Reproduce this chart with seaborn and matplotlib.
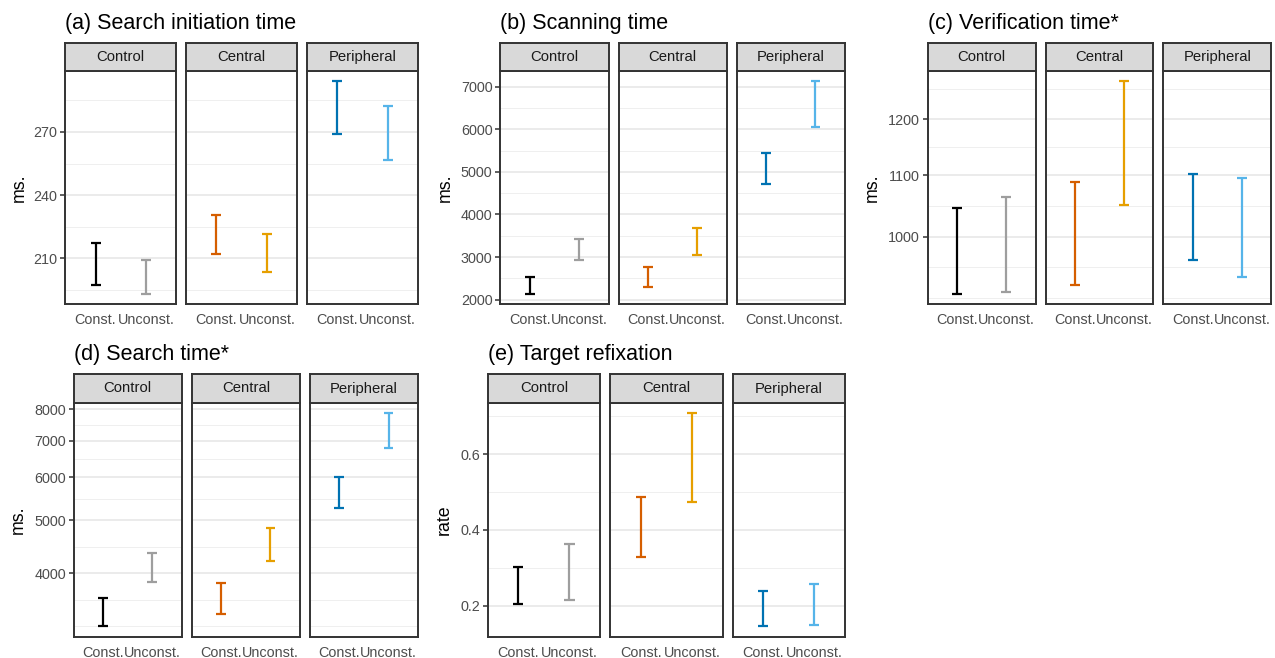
import numpy as np
import pandas as pd
import matplotlib
matplotlib.use("Agg")
import matplotlib.pyplot as plt
from matplotlib.ticker import NullLocator
import seaborn as sns

# --- data ---
conditions = ["Control", "Central", "Peripheral"]
constraints = ["Const.", "Unconst."]

# order: Control Const/Unconst, Central Const/Unconst, Peripheral Const/Unconst
init_lo = [197.4, 193.1, 212.1, 203.4, 269.2, 256.5]
init_hi = [217.0, 209.0, 230.7, 221.4, 294.1, 282.3]

scan_lo = [2140, 2927, 2304, 3051, 4720, 6051]
scan_hi = [2537, 3425, 2764, 3675, 5435, 7126]

verif_lo = [915, 917, 928, 1051, 964, 939]
verif_hi = [1045, 1064, 1088, 1273, 1103, 1096]

search_lo = [3198, 3860, 3364, 4208, 5278, 6800]
search_hi = [3599, 4353, 3839, 4844, 6008, 7864]

refix_lo = [0.203, 0.216, 0.329, 0.474, 0.146, 0.150]
refix_hi = [0.302, 0.362, 0.486, 0.708, 0.239, 0.257]

titles = ["(a) Search initiation time", "(b) Scanning time", "(c) Verification time*",
          "(d) Search time*", "(e) Target refixation"]
ylabels = ["ms.", "ms.", "ms.", "ms.", "rate"]
yticks = [[210, 240, 270],
          [2000, 3000, 4000, 5000, 6000, 7000],
          [1000, 1100, 1200],
          [4000, 5000, 6000, 7000, 8000],
          [0.2, 0.4, 0.6]]
ytick_labels = [["210", "240", "270"],
                ["2000", "3000", "4000", "5000", "6000", "7000"],
                ["1000", "1100", "1200"],
                ["4000", "5000", "6000", "7000", "8000"],
                ["0.2", "0.4", "0.6"]]
log_scale = [False, False, True, True, False]
lows = [init_lo, scan_lo, verif_lo, search_lo, refix_lo]
highs = [init_hi, scan_hi, verif_hi, search_hi, refix_hi]

palettes = {"Control": ["#000000", "#9E9E9E"],
            "Central": ["#D55E00", "#E69F00"],
            "Peripheral": ["#0072B2", "#56B4E9"]}

# --- layout in pixels (figure 1275 x 658) ---
W, H = 1275, 658
layouts = [
    dict(left=65.3, right=418.0, top=42.7, mid=70.7, bottom=304.3, ylab_x=19, title_y=28.5),
    dict(left=500.3, right=845.0, top=42.7, mid=70.7, bottom=304.3, ylab_x=445, title_y=28.5),
    dict(left=927.7, right=1271.3, top=42.7, mid=70.7, bottom=304.3, ylab_x=872, title_y=28.5),
    dict(left=73.7, right=418.0, top=374.3, mid=402.7, bottom=636.7, ylab_x=18, title_y=360),
    dict(left=487.7, right=845.0, top=374.3, mid=402.7, bottom=636.7, ylab_x=444, title_y=360),
]
GAP = 10


def px_rect(x0, y0, x1, y1):
    return [x0 / W, 1 - y1 / H, (x1 - x0) / W, (y1 - y0) / H]


def long_frame(lo, hi):
    rows = []
    i = 0
    for cond in conditions:
        for cons in constraints:
            rows.append((cond, cons, lo[i]))
            rows.append((cond, cons, hi[i]))
            i += 1
    return pd.DataFrame(rows, columns=["condition", "constraint", "value"])


def minor_breaks(major, lim, log):
    # same idea as ggplot's regular_minor_breaks
    fwd = np.log10 if log else (lambda v: np.asarray(v, float))
    inv = (lambda v: 10 ** v) if log else (lambda v: v)
    b = list(fwd(np.array(major, float)))
    lo, hi = fwd(np.array(lim, float))
    bd = b[1] - b[0]
    if lo < b[0]:
        b = [b[0] - bd] + b
    if hi > b[-1]:
        b = b + [b[-1] + bd]
    out = []
    for a, c in zip(b[:-1], b[1:]):
        out += [a, (a + c) / 2]
    out.append(b[-1])
    return inv(np.array(out))


sns.set_style("white")
plt.rcParams["font.family"] = ["Liberation Sans", "DejaVu Sans"]

fig = plt.figure(figsize=(W / 100, H / 100), dpi=100)
fig.patch.set_facecolor("white")

for k in range(5):
    lay = layouts[k]
    df = long_frame(lows[k], highs[k])
    lo_all, hi_all = min(lows[k]), max(highs[k])
    if log_scale[k]:
        a, b = np.log10(lo_all), np.log10(hi_all)
        pad = 0.05 * (b - a)
        ylim = (10 ** (a - pad), 10 ** (b + pad))
    else:
        pad = 0.05 * (hi_all - lo_all)
        ylim = (lo_all - pad, hi_all + pad)

    width = (lay["right"] - lay["left"] - 2 * GAP) / 3
    minors = minor_breaks(yticks[k], ylim, log_scale[k])

    for j, cond in enumerate(conditions):
        x0 = lay["left"] + j * (width + GAP)
        x1 = x0 + width
        ax = fig.add_axes(px_rect(x0, lay["mid"], x1, lay["bottom"]))
        sub = df[df["condition"] == cond]
        sns.pointplot(data=sub, x="constraint", y="value", hue="constraint",
                      order=constraints, hue_order=constraints, palette=palettes[cond],
                      errorbar=lambda v: (v.min(), v.max()), capsize=0.2,
                      marker="none", linestyle="none", legend=False,
                      err_kws={"linewidth": 1.6, "solid_capstyle": "butt"}, ax=ax)
        if log_scale[k]:
            ax.set_yscale("log")
        ax.set_ylim(*ylim)
        ax.set_xlim(-0.6, 1.6)
        ax.yaxis.set_minor_locator(NullLocator())

        for m in minors:
            if ylim[0] <= m <= ylim[1]:
                ax.axhline(m, color="#EFEFEF", lw=0.7, zorder=0)
        for t in yticks[k]:
            ax.axhline(t, color="#EBEBEB", lw=1.4, zorder=0)

        ax.set_xlabel("")
        ax.set_ylabel("")
        ax.set_yticks(yticks[k], ytick_labels[k])
        ax.tick_params(axis="both", length=3.6, width=1.1, color="#333333",
                       labelcolor="#4D4D4D", labelsize=10.4, pad=2)
        ax.tick_params(axis="x", pad=3)
        ax.tick_params(axis="y", left=(j == 0), labelleft=(j == 0))
        for sp in ax.spines.values():
            sp.set_color("#333333")
            sp.set_linewidth(1.4)
            sp.set_visible(True)

        # facet strip
        sax = fig.add_axes(px_rect(x0, lay["top"], x1, lay["mid"]))
        sax.set_facecolor("#D9D9D9")
        sax.set_xticks([])
        sax.set_yticks([])
        for sp in sax.spines.values():
            sp.set_color("#333333")
            sp.set_linewidth(1.4)
            sp.set_visible(True)
        sax.text(0.5, 0.5, cond, ha="center", va="center", fontsize=10.7,
                 color="#1A1A1A", transform=sax.transAxes)

    fig.text(lay["left"] / W, 1 - lay["title_y"] / H, titles[k], ha="left",
             va="baseline", fontsize=15.5, color="black")
    fig.text(lay["ylab_x"] / W, 1 - (lay["mid"] + lay["bottom"]) / 2 / H, ylabels[k],
             rotation=90, ha="center", va="center", fontsize=12.8, color="black")

fig.savefig("out.png", dpi=100)
